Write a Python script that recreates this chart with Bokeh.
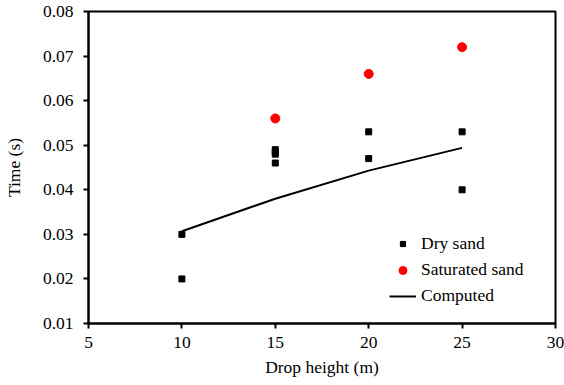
from bokeh.plotting import figure
from bokeh.models import FixedTicker, PrintfTickFormatter, Range1d, Legend, LegendItem
from bokeh.embed import file_html
from bokeh.resources import INLINE

dry_x = [10, 10, 15, 15, 15, 15, 20, 20, 25, 25]
dry_y = [0.030, 0.020, 0.049, 0.0485, 0.048, 0.046, 0.053, 0.047, 0.053, 0.040]
sat_x = [15, 20, 25]
sat_y = [0.056, 0.066, 0.072]
comp_x = [10, 15, 20, 25]
comp_y = [0.0307, 0.038, 0.0443, 0.0494]
x_ticks = [5, 10, 15, 20, 25, 30]
y_ticks = [0.01, 0.02, 0.03, 0.04, 0.05, 0.06, 0.07, 0.08]

FONT = "'Liberation Serif', 'Times New Roman', serif"
FS = "17.5px"

p = figure(width=564, height=385, output_backend="svg", toolbar_location=None,
           x_range=Range1d(5, 30), y_range=Range1d(0.01, 0.08),
           min_border_left=87, min_border_right=9, min_border_top=11, min_border_bottom=62)
p.background_fill_color = "white"
p.border_fill_color = "white"
p.outline_line_color = "black"
p.outline_line_width = 2
p.grid.visible = False

for ax in (p.xaxis[0], p.yaxis[0]):
    ax.axis_line_color = "black"
    ax.axis_line_width = 2
    ax.major_tick_line_color = "black"
    ax.major_tick_line_width = 2
    ax.major_tick_out = 5
    ax.major_tick_in = 0
    ax.minor_tick_line_color = None
    ax.major_label_text_font = FONT
    ax.major_label_text_font_size = FS
    ax.major_label_text_color = "black"
    ax.axis_label_text_font = FONT
    ax.axis_label_text_font_size = FS
    ax.axis_label_text_font_style = "normal"
    ax.axis_label_text_color = "black"

p.xaxis.ticker = FixedTicker(ticks=x_ticks)
p.yaxis.ticker = FixedTicker(ticks=y_ticks)
p.xaxis.formatter = PrintfTickFormatter(format="%d")
p.yaxis.formatter = PrintfTickFormatter(format="%.2f")
p.xaxis.axis_label = "Drop height (m)"
p.yaxis.axis_label = "Time (s)"
p.xaxis.major_label_standoff = 8
p.yaxis.major_label_standoff = 10
p.xaxis.axis_label_standoff = 6
p.yaxis.axis_label_standoff = 16

r_line = p.line(comp_x, comp_y, line_color="black", line_width=2)
r_dry = p.scatter(dry_x, dry_y, marker="square", size=6, fill_color="black", line_color="black")
r_sat = p.scatter(sat_x, sat_y, marker="circle", size=9, fill_color="#ff0000", line_color="#ff0000")


def make_legend(label, renderer, gh, loc):
    lg = Legend(items=[LegendItem(label=label, renderers=[renderer])], location=loc)
    lg.border_line_color = None
    lg.background_fill_alpha = 0
    lg.padding = 0
    lg.margin = 0
    lg.glyph_width = 27
    lg.glyph_height = gh
    lg.label_height = 20
    lg.label_standoff = 5
    lg.label_text_font = FONT
    lg.label_text_font_size = FS
    lg.label_text_color = "black"
    p.add_layout(lg, "center")


make_legend("Dry sand", r_dry, 13, (301, 69))
make_legend("Saturated sand", r_sat, 20, (301, 43))
make_legend("Computed", r_line, 20, (301, 17))

open("out.html", "w").write(file_html(p, INLINE))
